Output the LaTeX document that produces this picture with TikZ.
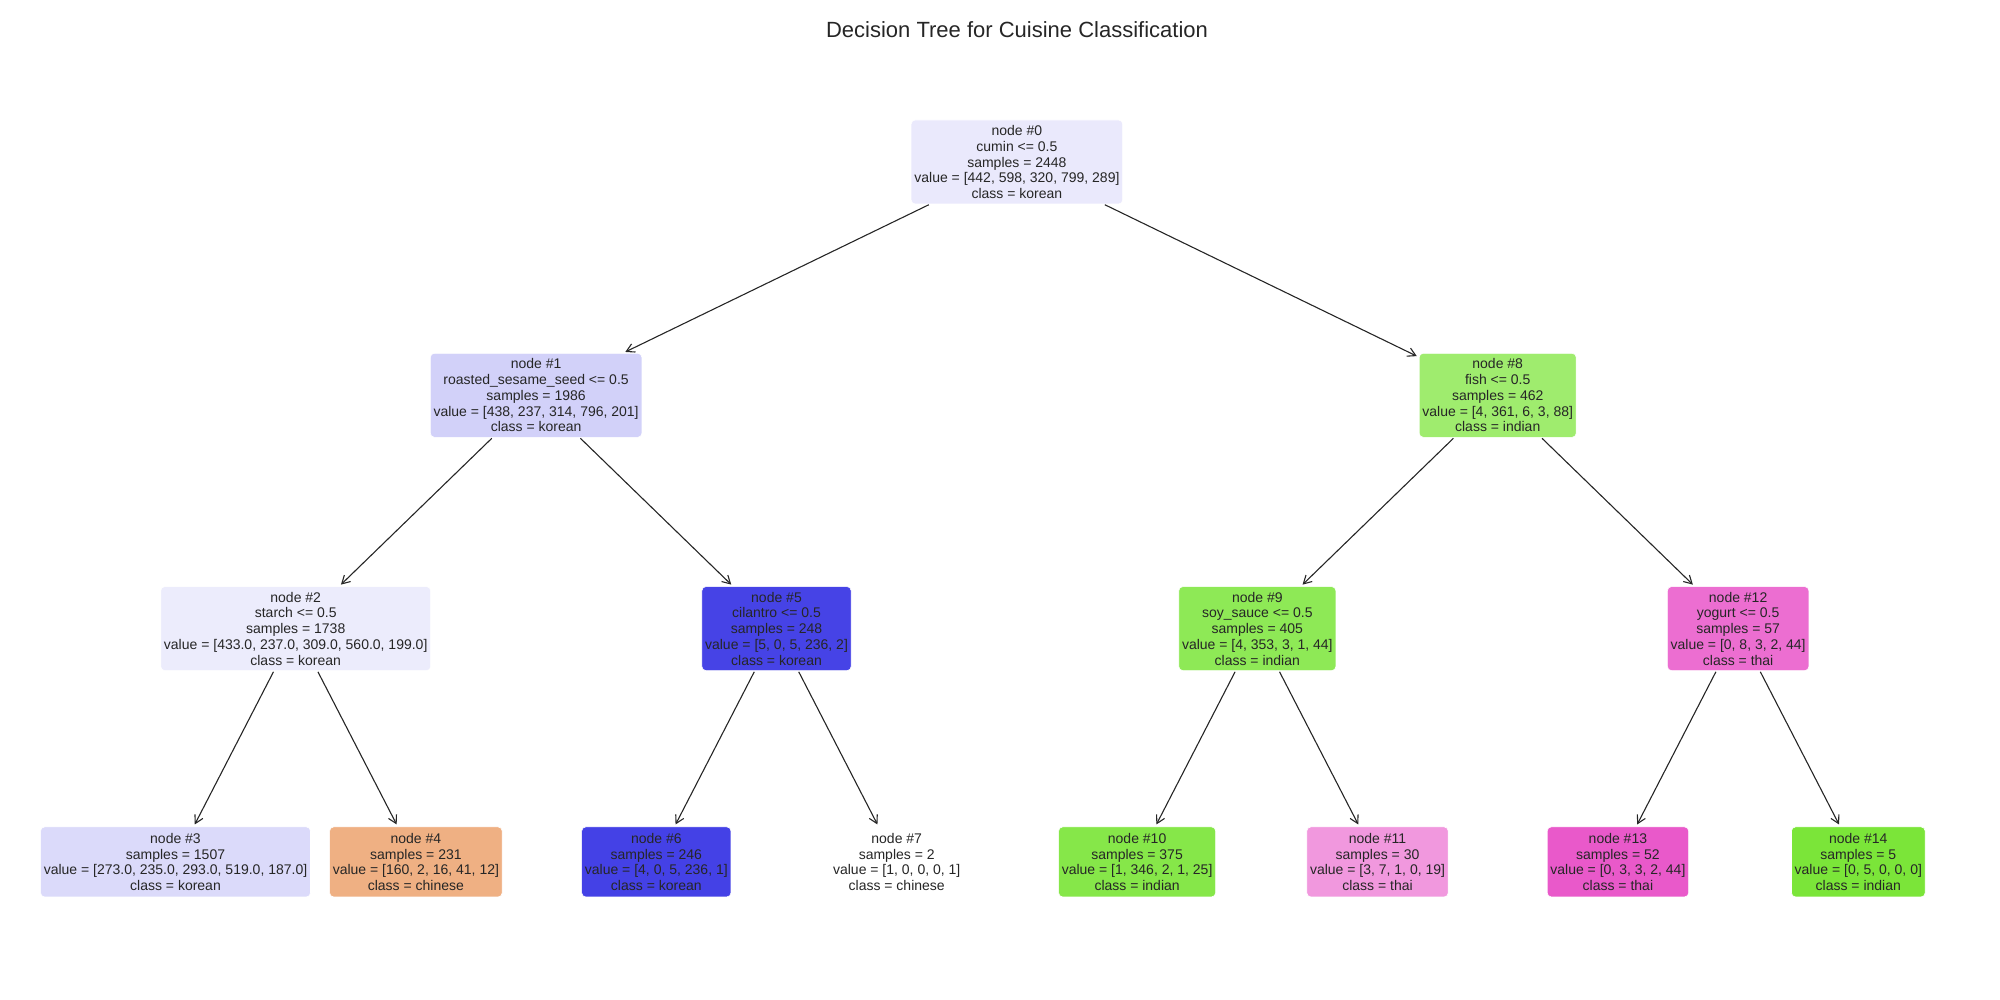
\documentclass[tikz,border=0pt]{standalone}
\usepackage{fontspec}
\setmainfont{Liberation Sans}
\usepackage{xcolor}
\usepackage{tikz}
\usetikzlibrary{arrows.meta}

\definecolor{ink}{RGB}{38,38,38}
\definecolor{fillA}{RGB}{234,233,252}
\definecolor{fillB}{RGB}{210,209,249}
\definecolor{fillC}{RGB}{236,236,252}
\definecolor{fillD}{RGB}{219,218,250}
\definecolor{fillE}{RGB}{239,176,131}
\definecolor{fillF}{RGB}{70,67,230}
\definecolor{fillG}{RGB}{68,65,230}
\definecolor{fillI}{RGB}{159,236,110}
\definecolor{fillJ}{RGB}{142,233,86}
\definecolor{fillK}{RGB}{134,231,73}
\definecolor{fillL}{RGB}{241,152,222}
\definecolor{fillM}{RGB}{236,110,209}
\definecolor{fillN}{RGB}{233,89,202}
\definecolor{fillO}{RGB}{123,229,57}

\begin{document}
\begin{tikzpicture}[x=0.5pt,y=-0.5pt]
\useasboundingbox (0,0) rectangle (2000,1000);
\node[text=ink,font=\fontsize{11}{13}\selectfont] (T) at (1017,30) {Decision Tree for Cuisine Classification};

%\tikzstyle{leaf}=[minimum height=35pt]
\begin{scope}[every node/.style={draw=white,line width=0.3pt,rounded corners=2pt,align=center,text=ink,
              inner xsep=1.6pt,inner ysep=1.5pt,font=\fontsize{7}{7.9}\selectfont,minimum height=42pt}]
    \node[fill=fillA] (A) at (1016.9,162) {node \#0\\cumin <= 0.5\\samples = 2448\\value = [442, 598, 320, 799, 289]\\class = korean};
    \node[fill=fillB] (B) at (536.1,395.3) {node \#1\\roasted\_sesame\_seed <= 0.5\\samples = 1986\\value = [438, 237, 314, 796, 201]\\class = korean};
    \node[fill=fillI] (I) at (1497.7,395.3) {node \#8\\fish <= 0.5\\samples = 462\\value = [4, 361, 6, 3, 88]\\class = indian};
    \node[fill=fillC] (C) at (295.7,628.6) {node \#2\\starch <= 0.5\\samples = 1738\\value = [433.0, 237.0, 309.0, 560.0, 199.0]\\class = korean};
    \node[fill=fillF] (F) at (776.5,628.6) {node \#5\\cilantro <= 0.5\\samples = 248\\value = [5, 0, 5, 236, 2]\\class = korean};
    \node[fill=fillJ] (J) at (1257.3,628.6) {node \#9\\soy\_sauce <= 0.5\\samples = 405\\value = [4, 353, 3, 1, 44]\\class = indian};
    \node[fill=fillM] (M) at (1738.1,628.6) {node \#12\\yogurt <= 0.5\\samples = 57\\value = [0, 8, 3, 2, 44]\\class = thai};

    \node[fill=fillD,minimum height=35pt] (D) at (175.5,861.9) {node \#3\\samples = 1507\\value = [273.0, 235.0, 293.0, 519.0, 187.0]\\class = korean};
    \node[fill=fillE,minimum height=35pt] (E) at (415.9,861.9) {node \#4\\samples = 231\\value = [160, 2, 16, 41, 12]\\class = chinese};
    \node[fill=fillG,minimum height=35pt] (G) at (656.3,861.9) {node \#6\\samples = 246\\value = [4, 0, 5, 236, 1]\\class = korean};
    \node[fill=white,minimum height=35pt] (H) at (896.7,861.9) {node \#7\\samples = 2\\value = [1, 0, 0, 0, 1]\\class = chinese};
    \node[fill=fillK,minimum height=35pt] (K) at (1137.1,861.9) {node \#10\\samples = 375\\value = [1, 346, 2, 1, 25]\\class = indian};
    \node[fill=fillL,minimum height=35pt] (L) at (1377.5,861.9) {node \#11\\samples = 30\\value = [3, 7, 1, 0, 19]\\class = thai};
    \node[fill=fillN,minimum height=35pt] (N) at (1617.9,861.9) {node \#13\\samples = 52\\value = [0, 3, 3, 2, 44]\\class = thai};
    \node[fill=fillO,minimum height=35pt] (O) at (1858.3,861.9) {node \#14\\samples = 5\\value = [0, 5, 0, 0, 0]\\class = indian};
\end{scope}

\begin{scope}[>={Straight Barb[length=4pt,width=4.5pt]},
              every edge/.style={draw=ink,line width=0.55pt,shorten >=1.2pt,shorten <=0.5pt}]
    \path [->] (A) edge (B);
    \path [->] (A) edge (I);
    \path [->] (B) edge (C);
    \path [->] (B) edge (F);
    \path [->] (C) edge (D);
    \path [->] (C) edge (E);
    \path [->] (F) edge (G);
    \path [->] (F) edge (H);

    \path [->] (I) edge (J);
    \path [->] (I) edge (M);
    \path [->] (J) edge (K);
    \path [->] (J) edge (L);
    \path [->] (M) edge (N);
    \path [->] (M) edge (O);
\end{scope}
\end{tikzpicture}
\end{document}
